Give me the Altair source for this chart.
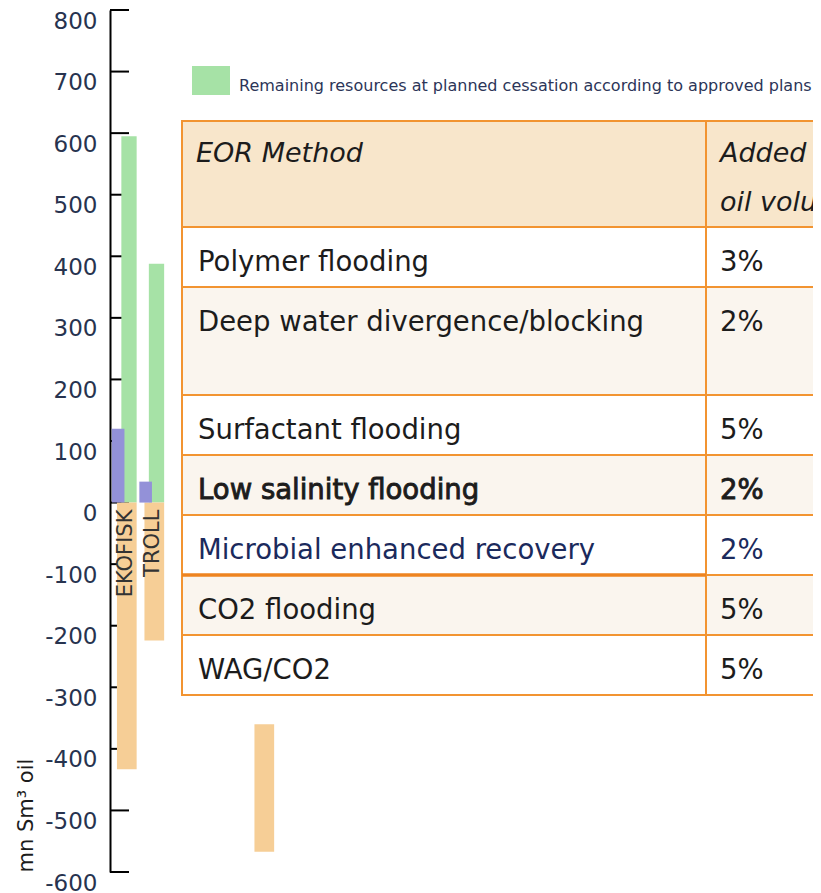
import altair as alt
import pandas as pd

# ---------------- data ----------------
fields = ["EKOFISK", "TROLL", "field 3", "field 4", "field 5", "field 6"]
label_fields = ["EKOFISK", "TROLL"]

remaining_fields = ["EKOFISK", "TROLL"]
remaining_values = [595, 388]

purple_fields = ["EKOFISK", "TROLL"]
purple_values = [120, 34]

orange_fields = ["EKOFISK", "TROLL", "field 6"]
orange_top = [0, 0, -360]
orange_bottom = [-433, -224, -567]

y_ticks = [800, 700, 600, 500, 400, 300, 200, 100, 0, -100, -200, -300, -400, -500, -600]
y_title = "mn Sm³ oil"
legend_label = "Remaining resources at planned cessation according to approved plans"

header_method = "EOR Method"
header_volume = "Added recoverable\noil volume"
eor_methods = [
    "Polymer flooding",
    "Deep water divergence/blocking",
    "Surfactant flooding",
    "Low salinity flooding",
    "Microbial enhanced recovery",
    "CO2 flooding",
    "WAG/CO2",
]
added_volume = ["3%", "2%", "5%", "2%", "2%", "5%", "5%"]
row_lines = [1, 2, 1, 1, 1, 1, 1]
row_shaded = [False, True, False, True, False, True, False]
row_bold = [False, False, False, True, False, False, False]
row_navy = [False, False, False, False, True, False, False]

# ---------------- styles ----------------
FONT = "DejaVu Sans"
GREEN, PURPLE, ORANGE = "#a6e2a6", "#9391d8", "#f6ce96"
BORDER = "#f29431"
HEAD_FILL, SHADE_FILL = "#f8e6cb", "#faf5ee"
TEXT = "#1c1c1c"
W, H = 703, 862

yscale = alt.Scale(domain=[-600, 800], nice=False, zero=False)
xscale = alt.Scale(domain=fields, range=[0.5, 165.5], paddingInner=0, paddingOuter=0)

# ---------------- bar chart ----------------
ticks_df = pd.DataFrame({"v": y_ticks})
axis = alt.Axis(
    orient="left", values=y_ticks, ticks=False, tickSize=0, grid=False,
    domain=True, domainColor="black", domainWidth=2,
    labelExpr="'' + datum.value",
    labelFont=FONT, labelFontSize=23, labelColor="#27334f",
    labelBaseline="top", labelAlign="right", labelPadding=13,
    labelFlush=False, labelOverlap=False,
    title=y_title, titleFont=FONT, titleFontSize=21, titleFontWeight="normal",
    titleColor=TEXT, titleAngle=270, titleAlign="left", titleBaseline="middle",
    titleX=-84, titleY=H,
)
ticks = alt.Chart(ticks_df).mark_rule(color="black", strokeWidth=2).encode(
    y=alt.Y("v:Q", scale=yscale, axis=axis),
    x=alt.value(0), x2=alt.value(19),
)

green_df = pd.DataFrame({"field": remaining_fields, "value": remaining_values,
                         "series": [legend_label] * len(remaining_fields), "zero": 0})
green = alt.Chart(green_df).mark_bar(width=15.3, xOffset=4.75).encode(
    x=alt.X("field:N", scale=xscale, axis=None),
    y=alt.Y("value:Q", scale=yscale, axis=None),
    y2="zero:Q",
    color=alt.Color("series:N", scale=alt.Scale(domain=[legend_label], range=[GREEN]),
                    legend=alt.Legend(orient="none", legendX=82, legendY=57, title=None,
                                      symbolType="M-1,-1.05H1V0.476H-1Z", symbolSize=1444,
                                      symbolStrokeWidth=0, symbolOpacity=1,
                                      labelFont=FONT, labelFontSize=16, labelColor="#2c3558",
                                      labelOffset=9, labelLimit=900, padding=0)),
)

purple_df = pd.DataFrame({"field": purple_fields, "value": purple_values, "zero": 0})
purple = alt.Chart(purple_df).mark_bar(width=12.6, xOffset=-6.1, color=PURPLE).encode(
    x=alt.X("field:N", scale=xscale, axis=None),
    y=alt.Y("value:Q", scale=yscale, axis=None),
    y2="zero:Q",
)

orange_df = pd.DataFrame({"field": orange_fields, "top": orange_top, "bottom": orange_bottom})
orange = alt.Chart(orange_df).mark_bar(width=19.7, xOffset=2.55, color=ORANGE).encode(
    x=alt.X("field:N", scale=xscale, axis=None),
    y=alt.Y("top:Q", scale=yscale, axis=None),
    y2="bottom:Q",
)

labels_df = pd.DataFrame({"field": label_fields, "zero": 0})
labels = alt.Chart(labels_df).mark_text(
    angle=270, align="right", baseline="middle", yOffset=7, xOffset=1.5,
    font=FONT, fontSize=21, color="#333333",
).encode(
    x=alt.X("field:N", scale=xscale, axis=None),
    y=alt.Y("zero:Q", scale=yscale, axis=None),
    text="field:N",
)

# ---------------- table (layout in pixels) ----------------
TX0, TXD, TX1 = 72, 596, 730
TY0, HEAD_H, LINE_H, EXTRA_H = 111, 106, 60, 48
PAD_X, BASE_DY = 16, 44
FS = 27.5

cells, texts, bold_texts = [], [], []
cells.append({"x": TX0, "x2": TXD, "y": TY0, "y2": TY0 + HEAD_H, "fill": HEAD_FILL})
cells.append({"x": TXD, "x2": TX1, "y": TY0, "y2": TY0 + HEAD_H, "fill": HEAD_FILL})
header_texts = pd.DataFrame([
    {"tx": TX0 + PAD_X - 2, "ty": TY0 + 41, "text": header_method},
    {"tx": TXD + 14, "ty": TY0 + 41, "text": header_volume},
])
y = TY0 + HEAD_H
thick = []
for m, v, ln, sh, b, nv in zip(eor_methods, added_volume, row_lines, row_shaded, row_bold, row_navy):
    h = LINE_H + (ln - 1) * EXTRA_H
    fill = SHADE_FILL if sh else "#ffffff"
    cells.append({"x": TX0, "x2": TXD, "y": y, "y2": y + h, "fill": fill})
    cells.append({"x": TXD, "x2": TX1, "y": y, "y2": y + h, "fill": fill})
    col = "#1b2a5c" if nv else TEXT
    target = bold_texts if b else texts
    target.append({"tx": TX0 + PAD_X, "ty": y + BASE_DY, "text": m, "color": col})
    target.append({"tx": TXD + 14, "ty": y + BASE_DY, "text": v, "color": col})
    if nv:
        thick.append({"x": TX0, "x2": TXD, "y": y + h})
    y += h

cells_df = pd.DataFrame(cells)
cell_layer = alt.Chart(cells_df).mark_rect(stroke=BORDER, strokeWidth=2).encode(
    x=alt.X("x:Q", scale=None, axis=None), x2="x2:Q",
    y=alt.Y("y:Q", scale=None, axis=None), y2="y2:Q",
    fill=alt.Fill("fill:N", scale=None, legend=None),
)
thick_layer = alt.Chart(pd.DataFrame(thick)).mark_rule(color="#ee8420", strokeWidth=3.5).encode(
    x=alt.X("x:Q", scale=None, axis=None), x2="x2:Q",
    y=alt.Y("y:Q", scale=None, axis=None),
)
head_layer = alt.Chart(header_texts).mark_text(
    align="left", baseline="alphabetic", font=FONT, fontSize=27, fontStyle="italic",
    color=TEXT, lineBreak="\n", lineHeight=49,
).encode(
    x=alt.X("tx:Q", scale=None, axis=None), y=alt.Y("ty:Q", scale=None, axis=None), text="text:N",
)
body_layer = alt.Chart(pd.DataFrame(texts)).mark_text(
    align="left", baseline="alphabetic", font=FONT, fontSize=FS,
).encode(
    x=alt.X("tx:Q", scale=None, axis=None), y=alt.Y("ty:Q", scale=None, axis=None), text="text:N",
    color=alt.Color("color:N", scale=None, legend=None),
)
bold_layer = alt.Chart(pd.DataFrame(bold_texts)).mark_text(
    align="left", baseline="alphabetic", font=FONT, fontSize=FS,
    stroke=TEXT, strokeWidth=0.9,
).encode(
    x=alt.X("tx:Q", scale=None, axis=None), y=alt.Y("ty:Q", scale=None, axis=None), text="text:N",
    color=alt.Color("color:N", scale=None, legend=None),
)

chart = alt.layer(
    ticks, green, orange, purple, labels,
    cell_layer, thick_layer, head_layer, body_layer, bold_layer,
).resolve_scale(x="independent", y="independent", color="independent", fill="independent").properties(
    width=W, height=H, autosize="none",
    padding={"left": 102, "top": 2, "right": 0, "bottom": 19},
).configure_view(stroke=None)

chart.save("out.html", embed_options={"renderer": "svg", "actions": False})
